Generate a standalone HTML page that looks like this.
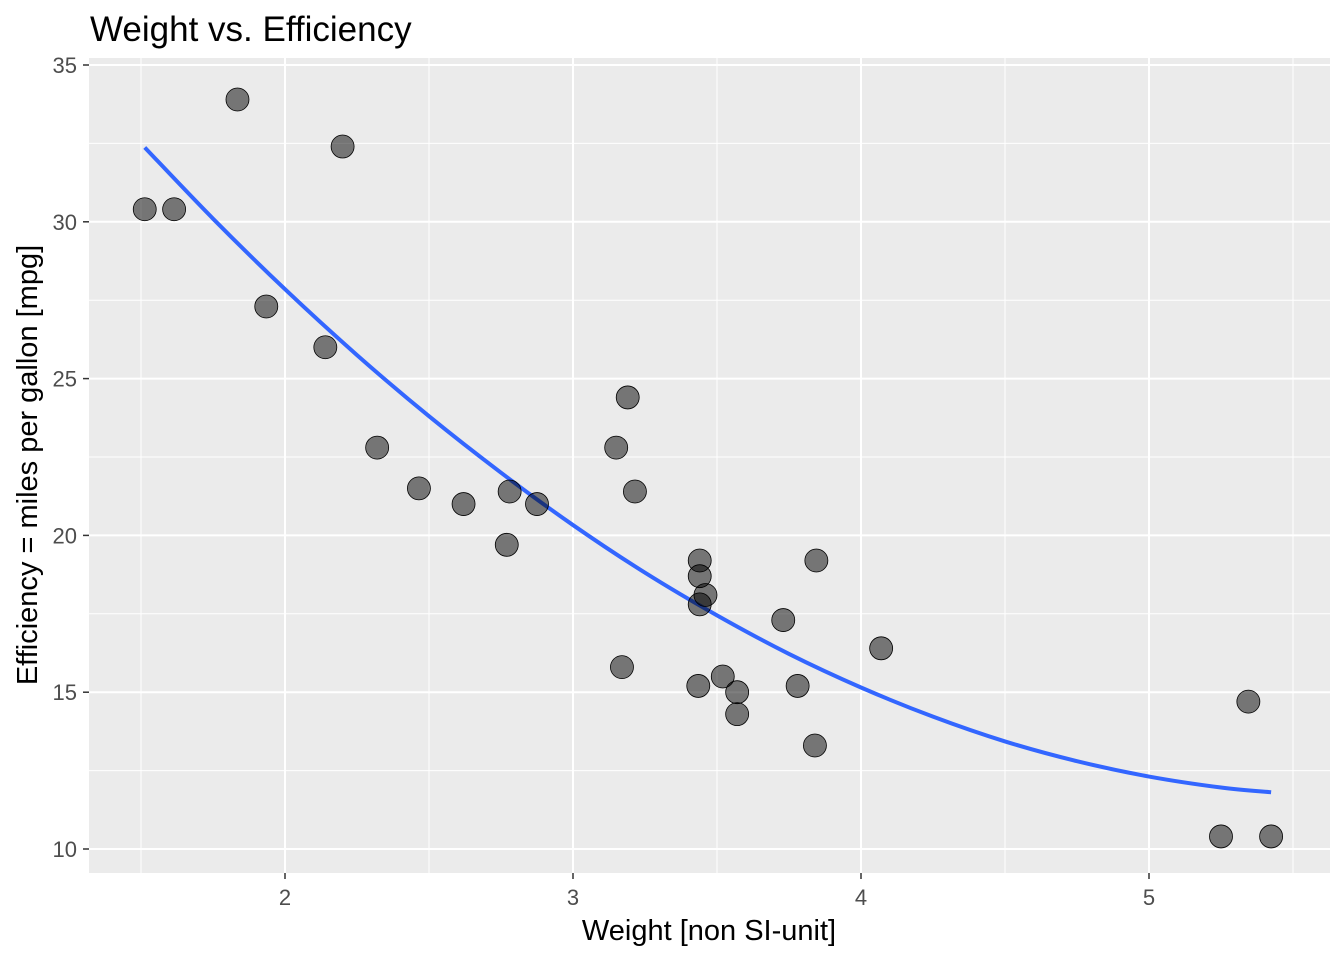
<!DOCTYPE html>
<html><head><meta charset="utf-8"><style>
body{margin:0;background:#fff;font-family:"Liberation Sans",sans-serif}
</style></head><body>
<svg width="1344" height="960" xmlns="http://www.w3.org/2000/svg">
<text x="90" y="41" font-size="35" fill="#000">Weight vs. Efficiency</text>
<rect x="89" y="58" width="1241" height="815" fill="#ebebeb"/>
<g id="grid"></g>
<g id="axes"></g>
<path id="fit" fill="none" stroke="#3366ff" stroke-width="4"/>
<g id="pts"></g>
<text x="709" y="940" font-size="29" text-anchor="middle" fill="#000">Weight [non SI-unit]</text>
<text transform="translate(37,465) rotate(-90)" font-size="29" text-anchor="middle" fill="#000">Efficiency = miles per gallon [mpg]</text>
</svg>
<script>
const weights=[2.620,2.875,2.320,3.215,3.440,3.460,3.570,3.190,3.150,3.440,3.440,4.070,3.730,3.780,5.250,5.424,5.345,2.200,1.615,1.835,2.465,3.520,3.435,3.840,3.845,1.935,2.140,1.513,3.170,2.770,3.570,2.780];
const mpgs=[21.0,21.0,22.8,21.4,18.7,18.1,14.3,24.4,22.8,19.2,17.8,16.4,17.3,15.2,10.4,10.4,14.7,32.4,30.4,33.9,21.5,15.5,15.2,13.3,19.2,27.3,26.0,30.4,15.8,19.7,15.0,21.4];
const fitX=[1.513,1.75,2.0,2.25,2.5,2.75,3.0,3.25,3.5,3.75,4.0,4.25,4.5,4.75,5.0,5.25,5.424];
const fitY=[32.37,30.10,27.85,25.75,23.80,22.00,20.33,18.81,17.45,16.22,15.15,14.22,13.43,12.80,12.31,11.96,11.81];
const xTicks=[2,3,4,5];
const yTicks=[10,15,20,25,30,35];
const xMinor=[1.5,2.5,3.5,4.5,5.5];
const yMinor=[12.5,17.5,22.5,27.5,32.5];
const X=v=>285+(v-2)*288;
const Y=v=>849-(v-10)*31.36;
const NS='http://www.w3.org/2000/svg';
function mk(tag,attrs,parent){const e=document.createElementNS(NS,tag);for(const k in attrs)e.setAttribute(k,attrs[k]);parent.appendChild(e);return e;}
const g=document.getElementById('grid'),ax=document.getElementById('axes'),pts=document.getElementById('pts');
xMinor.forEach(v=>{const l=mk('line',{x1:X(v),x2:X(v),y1:58,y2:873,stroke:'#fff','stroke-width':1},g);

});
yMinor.forEach(v=>{const l=mk('line',{x1:89,x2:1330,y1:Y(v),y2:Y(v),stroke:'#fff','stroke-width':1},g);

});
xTicks.forEach(v=>{const l=mk('line',{x1:X(v),x2:X(v),y1:58,y2:873,stroke:'#fff','stroke-width':2},g);


const t=mk('line',{x1:X(v),x2:X(v),y1:873,y2:879,stroke:'#333','stroke-width':1.5},ax);


const tx=mk('text',{x:X(v),y:905,'font-size':22,'text-anchor':'middle',fill:'#4d4d4d'},ax);tx.textContent=v;

});
yTicks.forEach(v=>{const l=mk('line',{x1:89,x2:1330,y1:Y(v),y2:Y(v),stroke:'#fff','stroke-width':2},g);


const t=mk('line',{x1:83,x2:89,y1:Y(v),y2:Y(v),stroke:'#333','stroke-width':1.5},ax);


const tx=mk('text',{x:77,y:Y(v)+8,'font-size':22,'text-anchor':'end',fill:'#4d4d4d'},ax);tx.textContent=v;

});
const P=fitX.map((v,i)=>[X(v),Y(fitY[i])]);
let d='M'+P[0][0]+','+P[0][1];
for(let i=0;i<P.length-1;i++){const p0=P[Math.max(0,i-1)],p1=P[i],p2=P[i+1],p3=P[Math.min(P.length-1,i+2)];
d+='C'+(p1[0]+(p2[0]-p0[0])/6)+','+(p1[1]+(p2[1]-p0[1])/6)+' '+(p2[0]-(p3[0]-p1[0])/6)+','+(p2[1]-(p3[1]-p1[1])/6)+' '+p2[0]+','+p2[1];}
document.getElementById('fit').setAttribute('d',d);
weights.forEach((w,i)=>{const c=mk('circle',{cx:X(w),cy:Y(mpgs[i]),r:11.5,fill:'rgba(0,0,0,0.5)',stroke:'#000','stroke-width':0.8},pts);

});
</script>
</body></html>
